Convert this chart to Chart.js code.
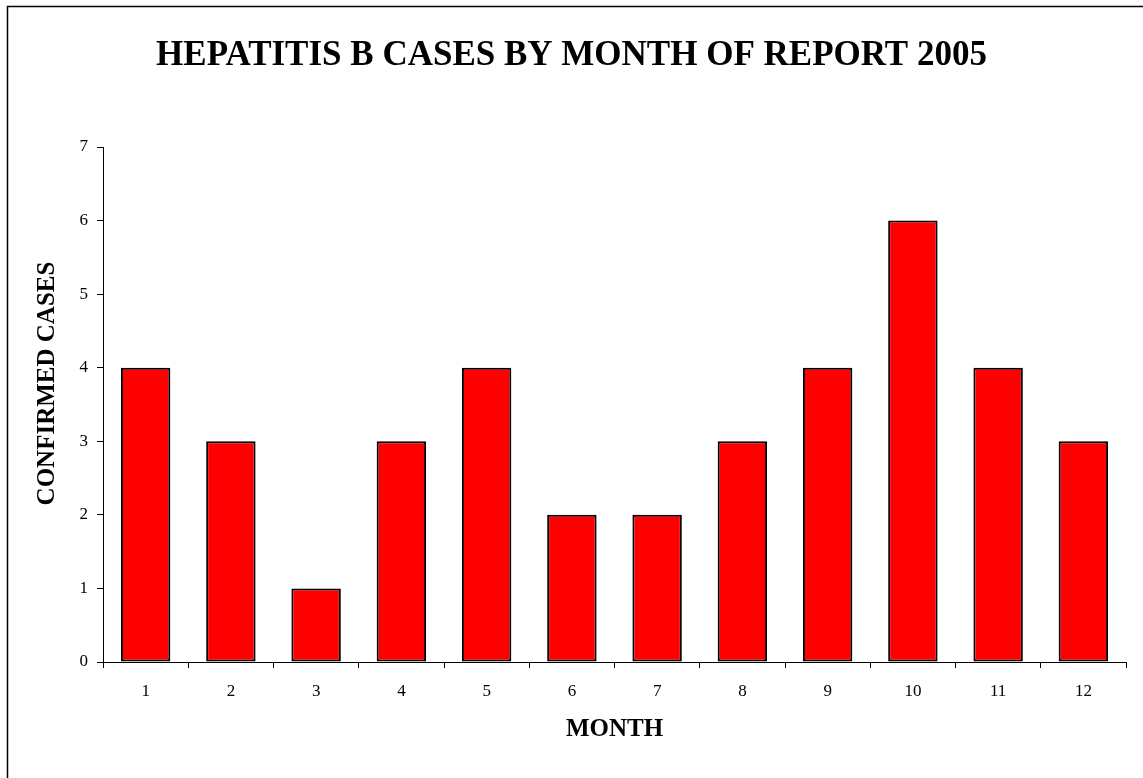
<!DOCTYPE html>
<html>
<head>
<meta charset="utf-8">
<script src="https://cdn.jsdelivr.net/npm/chart.js@4/dist/chart.umd.min.js"></script>
<style>
  html, body { margin: 0; padding: 0; background: #ffffff; }
  canvas { display: block; }
</style>
</head>
<body>
<canvas id="c" width="1143" height="778"></canvas>
<script>
const months = ['1','2','3','4','5','6','7','8','9','10','11','12'];
const confirmedCases = [4, 3, 1, 3, 4, 2, 2, 3, 4, 6, 4, 3];
const yTicks = [0, 1, 2, 3, 4, 5, 6, 7];
const chartTitle = 'HEPATITIS B CASES BY MONTH OF REPORT 2005';
const xTitle = 'MONTH';
const yTitle = 'CONFIRMED CASES';

const SERIF = '"Liberation Serif", "Times New Roman", Times, serif';

const framePlugin = {
  id: 'frame',
  beforeDraw(chart) {
    const ctx = chart.ctx;
    ctx.save();
    ctx.fillStyle = '#ffffff';
    ctx.fillRect(0, 0, chart.width, chart.height);
    ctx.strokeStyle = '#000000';
    ctx.lineWidth = 1.5;
    ctx.beginPath();
    ctx.moveTo(7.5, chart.height + 2);
    ctx.lineTo(7.5, 6.5);
    ctx.lineTo(chart.width + 2, 6.5);
    ctx.stroke();
    ctx.restore();
  },
  afterDraw(chart) {
    const ctx = chart.ctx;
    ctx.save();
    ctx.fillStyle = '#000000';
    ctx.font = 'bold 25px ' + SERIF;
    ctx.textAlign = 'center';
    ctx.textBaseline = 'middle';
    ctx.translate(47.5, 383.5);
    ctx.rotate(-Math.PI / 2);
    ctx.fillText(yTitle, 0, 0);
    ctx.restore();
  }
};

new Chart(document.getElementById('c'), {
  type: 'bar',
  data: {
    labels: months,
    datasets: [{
      label: yTitle,
      data: confirmedCases,
      backgroundColor: '#ff0000',
      borderColor: '#000000',
      borderWidth: 2,
      borderSkipped: false,
      barPercentage: 0.58,
      categoryPercentage: 1.0
    }]
  },
  options: {
    responsive: false,
    animation: false,
    layout: { padding: { left: 17, right: 17, top: 0, bottom: 0 } },
    plugins: {
      legend: { display: false },
      tooltip: { enabled: false },
      title: {
        display: true,
        text: chartTitle,
        color: '#000000',
        font: { family: SERIF, size: 35, weight: 'bold', lineHeight: 1.2 },
        padding: { top: 34.5, bottom: 70.5 }
      }
    },
    scales: {
      x: {
        type: 'category',
        offset: true,
        grid: {
          offset: true,
          drawOnChartArea: false,
          drawTicks: true,
          tickLength: 6,
          color: '#000000',
          lineWidth: 1
        },
        border: { display: true, color: '#000000', width: 1 },
        ticks: {
          color: '#000000',
          font: { family: SERIF, size: 17 },
          padding: 13,
          maxRotation: 0,
          autoSkip: false
        },
        title: {
          display: true,
          text: xTitle,
          color: '#000000',
          font: { family: SERIF, size: 25, weight: 'bold', lineHeight: 1.2 },
          padding: { top: 0, bottom: 33.5 }
        },
        afterFit(scale) { scale.height = 116; }
      },
      y: {
        type: 'linear',
        min: 0,
        max: 7,
        afterBuildTicks(scale) { scale.ticks = yTicks.map(v => ({ value: v })); },
        grid: {
          drawOnChartArea: false,
          drawTicks: true,
          tickLength: 6,
          color: '#000000',
          lineWidth: 1
        },
        border: { display: true, color: '#000000', width: 1 },
        ticks: {
          color: '#000000',
          font: { family: SERIF, size: 17 },
          padding: 9,
          stepSize: 1
        },
        afterFit(scale) { scale.width = 86; }
      }
    }
  },
  plugins: [framePlugin]
});
</script>
</body>
</html>
